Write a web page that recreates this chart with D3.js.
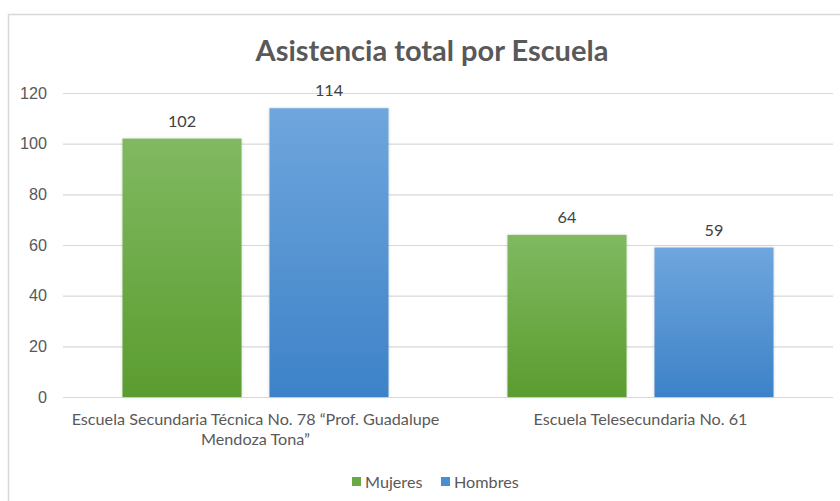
<!DOCTYPE html>
<html>
<head>
<meta charset="utf-8">
<script src="https://cdn.jsdelivr.net/npm/d3@7"></script>
<style>
	html, body { margin: 0; padding: 0; background: #fff; overflow: hidden; }
	svg { display: block; font-family: Lato, "Open Sans", sans-serif; }
</style>
</head>
<body>
<svg id="chart" width="840" height="501"></svg>
<script>
;(() => {
	'use strict';

	// chart data
	const title = 'Asistencia total por Escuela';
	const schools = [
		['Escuela Secundaria Técnica No. 78 “Prof. Guadalupe', 'Mendoza Tona”'],
		['Escuela Telesecundaria No. 61']
	];
	const seriesNames = ['Mujeres', 'Hombres'];
	const mujeres = [102, 64],
		hombres = [114, 59];
	const yTicks = [0, 20, 40, 60, 80, 100, 120];

	const textColor = '#595959',
		gridColor = '#d9d9d9',
		fontSize = '16.2px',
		gradients = [
			{ id: 'grad-m', top: '#80b961', bottom: '#5b9c2f', swatch: '#6aaa44' },
			{ id: 'grad-h', top: '#6fa6dd', bottom: '#3d82c8', swatch: '#4a8fd6' }
		];

	const svg = d3.select('#chart');

	// outer chart border
	svg.append('rect')
		.attr('x', 8.5).attr('y', 14.5)
		.attr('width', 900).attr('height', 600)
		.attr('fill', '#fff')
		.attr('stroke', gridColor)
		.attr('stroke-width', 1.5);

	const defs = svg.append('defs');
	gradients.forEach((g) => {
		const lg = defs.append('linearGradient')
			.attr('id', g.id)
			.attr('x1', 0).attr('y1', 0).attr('x2', 0).attr('y2', 1);
		lg.append('stop').attr('offset', '0%').attr('stop-color', g.top);
		lg.append('stop').attr('offset', '100%').attr('stop-color', g.bottom);
	});
	const shadow = defs.append('filter').attr('id', 'shadow')
		.attr('x', '-10%').attr('y', '-10%').attr('width', '120%').attr('height', '120%');
	shadow.append('feDropShadow')
		.attr('dx', 0).attr('dy', 0).attr('stdDeviation', 1.5)
		.attr('flood-color', '#000').attr('flood-opacity', 0.18);

	const left = 63, right = 833;

	const y = d3.scaleLinear().domain([0, 120]).range([397, 93]);

	const x0 = d3.scaleBand()
		.domain(d3.range(schools.length))
		.range([left, right])
		.paddingInner(0.309)
		.paddingOuter(0.1545);

	const x1 = d3.scaleBand()
		.domain(d3.range(seriesNames.length))
		.range([0, x0.bandwidth()])
		.paddingInner(0.19)
		.paddingOuter(0);

	// gridlines + y labels
	const yAxis = d3.axisLeft(y)
		.tickValues(yTicks)
		.tickSize(-(right - left))
		.tickPadding(16);

	const yG = svg.append('g')
		.attr('transform', `translate(${left},0)`)
		.call(yAxis);
	yG.select('.domain').remove();
	yG.selectAll('.tick line')
		.attr('stroke', gridColor)
		.attr('stroke-width', 1.2);
	yG.selectAll('.tick text')
		.attr('fill', textColor)
		.attr('font-family', null)
		.attr('font-size', null)
		.style('font-size', fontSize);

	// bars
	const values = [mujeres, hombres];
	const groups = svg.selectAll('.school')
		.data(schools)
		.enter()
		.append('g')
		.attr('class', 'school')
		.attr('transform', (d, i) => `translate(${x0(i)},0)`);

	groups.each(function(d, i) {
		const g = d3.select(this);
		seriesNames.forEach((name, s) => {
			const v = values[s][i];
			g.append('rect')
				.attr('x', x1(s))
				.attr('y', y(v))
				.attr('width', x1.bandwidth())
				.attr('height', y(0) - y(v))
				.attr('fill', `url(#${gradients[s].id})`)
				.attr('filter', 'url(#shadow)');
			g.append('text')
				.attr('x', x1(s) + x1.bandwidth() / 2)
				.attr('y', y(v) - 12)
				.attr('text-anchor', 'middle')
				.attr('fill', '#404040')
				.style('font-size', fontSize)
				.text(v);
		});
	});

	// category labels
	schools.forEach((lines, i) => {
		const cx = x0(i) + x0.bandwidth() / 2;
		const t = svg.append('text')
			.attr('text-anchor', 'middle')
			.attr('fill', textColor)
			.style('font-size', fontSize);
		lines.forEach((ln, k) => {
			t.append('tspan')
				.attr('x', cx)
				.attr('y', 425 + k * 20)
				.text(ln);
		});
	});

	// title
	svg.append('text')
		.attr('x', 432)
		.attr('y', 61)
		.attr('text-anchor', 'middle')
		.attr('fill', textColor)
		.style('font-size', '29px')
		.style('font-weight', 'bold')
		.text(title);

	// legend
	const legendPos = [352, 441];
	seriesNames.forEach((name, s) => {
		svg.append('rect')
			.attr('x', legendPos[s])
			.attr('y', 477)
			.attr('width', 9)
			.attr('height', 9)
			.attr('fill', gradients[s].swatch);
		svg.append('text')
			.attr('x', legendPos[s] + 13)
			.attr('y', 488)
			.attr('fill', textColor)
			.style('font-size', fontSize)
			.text(name);
	});
})();
</script>
</body>
</html>
